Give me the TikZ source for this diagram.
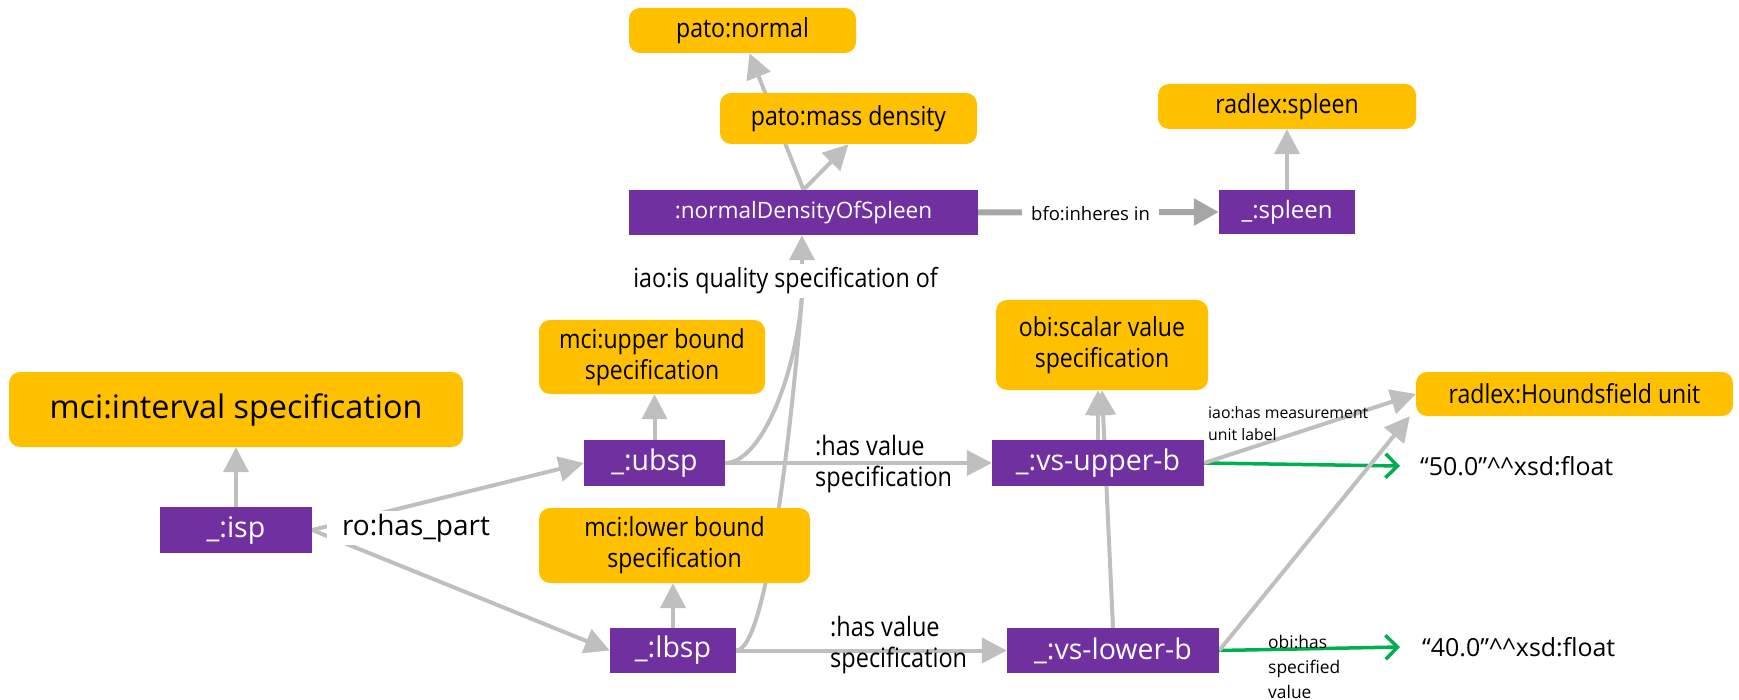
\documentclass[tikz,border=0pt]{standalone}
\usepackage{fontspec}
\setmainfont{Open Sans}
\newfontfamily\cf{Open Sans}[FakeStretch=0.88]
\usetikzlibrary{arrows.meta,backgrounds}
\definecolor{yel}{HTML}{FFC000}
\definecolor{pur}{HTML}{7030A0}
\definecolor{lgray}{HTML}{BFBFBF}
\definecolor{dgray}{HTML}{A6A6A6}
\definecolor{grn}{HTML}{00B050}
\newcommand\setfs[2]{\fontsize{#1}{#2}\selectfont}
\tikzset{
  ybox/.style={fill=yel, rounded corners=11pt, inner sep=0pt, text=black, font=\cf\setfs{26.2}{31}},
  pbox/.style={fill=pur, inner sep=0pt, text=white, font=\setfs{28.5}{33}},
  wlab/.style={fill=white, inner xsep=4pt, inner ysep=0pt, text=black},
  flab/.style={anchor=west, align=left, inner sep=0pt, text=black},
  garr/.style={draw=lgray, line width=4pt, -{Triangle[length=25pt,width=25pt]}},
  gline/.style={draw=lgray, line width=4pt},
  dgarr/.style={draw=dgray, line width=6pt, -{Triangle[length=25pt,width=26pt]}},
  grarr/.style={draw=grn, line width=3.5pt, -{Straight Barb[length=12pt,width=24pt]}}
}
\begin{document}
\begin{tikzpicture}[x=1pt,y=-1pt]
\useasboundingbox (0,0) rectangle (1739,700);
% nodes
\node[ybox,minimum width=227pt,minimum height=45pt] (pnorm) at (742.5,30.5) {pato:normal};
\node[ybox,minimum width=257pt,minimum height=51pt] (pmass) at (848.5,118.5) {pato:mass density};
\node[pbox,font=\setfs{22.6}{27},minimum width=349pt,minimum height=45pt] (nd) at (803.5,212.5) {:normalDensityOfSpleen};
\node[ybox,minimum width=258pt,minimum height=45pt] (rsp) at (1287,106.5) {radlex:spleen};
\node[pbox,font=\setfs{24}{28},minimum width=136pt,minimum height=44pt] (sp) at (1287,212) {\_:spleen};
\node[ybox,font=\setfs{32.4}{38},minimum width=454pt,minimum height=75pt] (iv) at (236,409.5) {mci:interval specification};
\node[pbox,minimum width=152pt,minimum height=46pt] (isp) at (236,530) {\_:isp};
\node[ybox,align=center,minimum width=226pt,minimum height=74pt] (ub) at (652,357) {mci:upper bound\\specification};
\node[pbox,minimum width=141pt,minimum height=46pt] (ubsp) at (654.5,463) {\_:ubsp};
\node[ybox,align=center,minimum width=271pt,minimum height=75pt] (lb) at (674.5,545.5) {mci:lower bound\\specification};
\node[pbox,minimum width=126pt,minimum height=45pt] (lbsp) at (673,650.5) {\_:lbsp};
\node[ybox,align=center,minimum width=212pt,minimum height=90pt] (sc) at (1102,345) {obi:scalar value\\specification};
\node[pbox,minimum width=212pt,minimum height=46pt] (vsu) at (1098,463) {\_:vs-upper-b};
\node[pbox,minimum width=212pt,minimum height=45pt] (vsl) at (1113,650.5) {\_:vs-lower-b};
\node[ybox,minimum width=317pt,minimum height=44pt] (hu) at (1574.5,394) {radlex:Houndsfield unit};
\node[anchor=west,inner sep=0pt,font=\setfs{24.9}{29}] (v50) at (1420,466) {“50.0”\textasciicircum\textasciicircum xsd:float};
\node[anchor=west,inner sep=0pt,font=\setfs{24.9}{29}] (v40) at (1422,647) {“40.0”\textasciicircum\textasciicircum xsd:float};
% edge labels
\node[wlab,font=\cf\setfs{26.4}{31},minimum height=34pt] (lq) at (785.5,281) {iao:is quality specification of};
\node[wlab,font=\setfs{28}{33},minimum width=178pt,minimum height=34pt] (lhp) at (416,528) {ro:has\_part};
\node[wlab,font=\setfs{18.5}{22},minimum width=137pt,minimum height=24pt] (lbfo) at (1090.5,214) {bfo:inheres in};
\node[flab,font=\cf\setfs{26.7}{31}] (lhv1) at (815,464.5) {:has value\\specification};
\node[flab,font=\cf\setfs{26.7}{31}] (lhv2) at (830,645) {:has value\\specification};
\node[flab,font=\setfs{15.8}{22}] (lum) at (1208,424) {iao:has measurement\\unit label};
\node[flab,font=\setfs{17.4}{25}] (lsv) at (1268,667) {obi:has\\specified\\value};
% connectors
\begin{scope}[on background layer]
\draw[garr] (nd.north) -- ([xshift=7pt]pnorm.south);
\draw[garr] (nd.north) -- (pmass.south);
\draw[dgarr] (nd.east) -- (sp.west);
\draw[garr] (sp.north) -- (rsp.south);
\draw[garr] (isp.north) -- (iv.south);
\draw[garr] (isp.east) -- (ubsp.west);
\draw[garr] (isp.east) -- (lbsp.west);
\draw[garr] (ubsp.north) -- (ubsp.north |- ub.south);
\draw[garr] (lbsp.north) -- (lbsp.north |- lb.south);
\coordinate (qm) at (802,296);
\draw[gline] (ubsp.east) .. controls (760,463) and (795,380) .. (qm);
\draw[gline] (lbsp.east) .. controls (768,650) and (793,410) .. (qm);
\draw[garr] (qm) -- (qm |- nd.south);
\draw[garr] (ubsp.east) -- (vsu.west);
\draw[garr] (lbsp.east) -- (vsl.west);
\draw[garr] (vsu.north) -- (vsu.north |- sc.south);
\draw[garr] (vsl.north) -- (sc.south);
\draw[grarr] (vsu.east) -- ([xshift=-20pt]v50.west);
\draw[grarr] (vsl.east) -- ([xshift=-22pt]v40.west);
\draw[garr] (vsu.east) -- (hu.west);
\draw[garr] (vsl.east) -- ([xshift=-6pt]hu.south west);
\end{scope}
\end{tikzpicture}
\end{document}
